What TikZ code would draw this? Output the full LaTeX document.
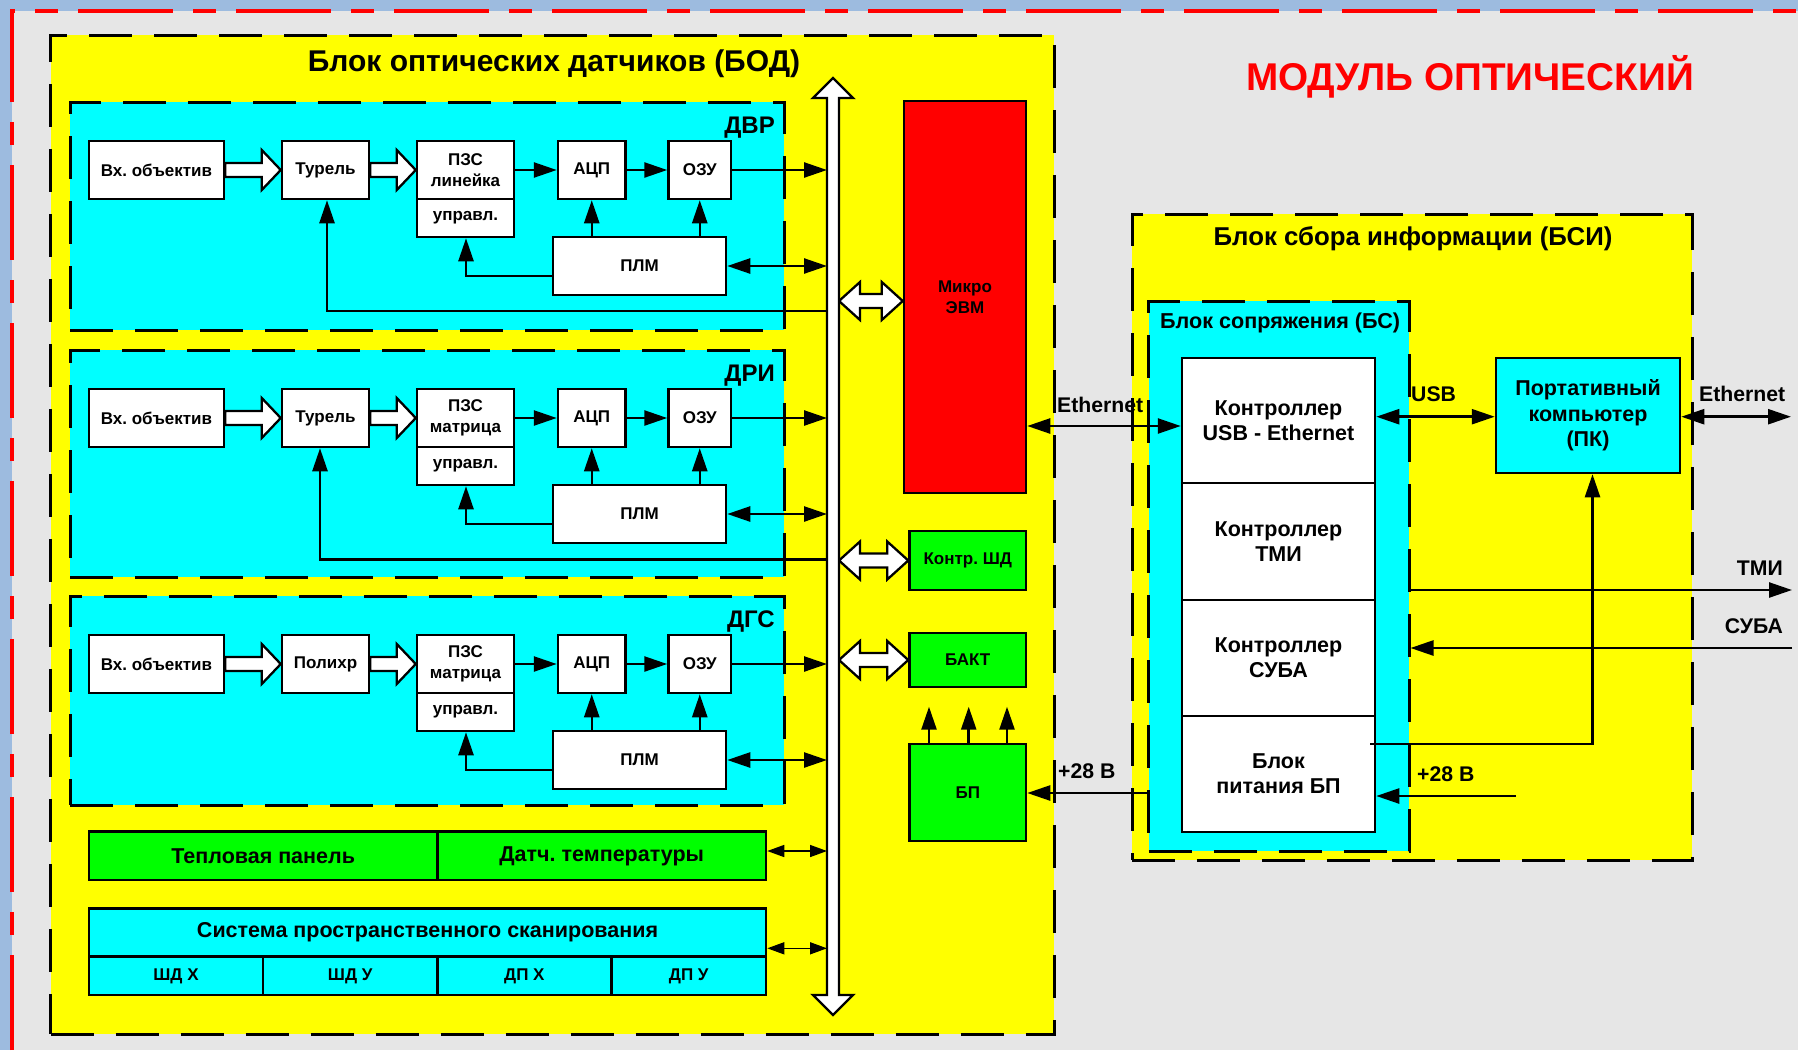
\documentclass[tikz,border=0pt]{standalone}
\usepackage{fontspec}
\setmainfont{Liberation Sans}
\usetikzlibrary{arrows.meta,calc}
\definecolor{ylw}{HTML}{FFFF00}
\definecolor{cyn}{HTML}{00FFFF}
\definecolor{grn}{HTML}{00FF00}
\definecolor{rd}{HTML}{FF0000}
\definecolor{bggray}{HTML}{E6E6E6}
\definecolor{bgblue}{HTML}{9DBBDF}
\tikzset{
 blk/.style={draw, line width=2.5pt, fill=white, inner sep=0pt, align=center, font=\bfseries\fontsize{17}{21}\selectfont},
 wbig/.style={blk, font=\bfseries\fontsize{21.5}{25}\selectfont},
 gbox/.style={blk, fill=grn},
 barfont/.style={font=\bfseries\fontsize{21.5}{25}\selectfont},
 dbox/.style={draw, line width=3pt, dash pattern=on 43pt off 22pt},
 lbl/.style={inner sep=0pt, font=\bfseries\fontsize{21.2}{25}\selectfont},
 lblbig/.style={inner sep=0pt, font=\bfseries\fontsize{24}{28}\selectfont},
 conn/.style={line width=2.5pt, -{Triangle[length=23pt,width=15pt]}},
 bconn/.style={line width=2.5pt, {Triangle[length=23pt,width=15pt]}-{Triangle[length=23pt,width=15pt]}},
 thinb/.style={line width=1.5pt, {Triangle[length=17pt,width=12pt]}-{Triangle[length=17pt,width=12pt]}},
 hollow/.style={draw, line width=2.3pt, fill=white, line join=miter},
}
\newcommand\rbox[7][]{\node[#1, minimum width={(#5)-(#3)}, minimum height={(#6)-(#4)}] (#2) at ({((#3)+(#5))/2},{((#4)+(#6))/2}) {#7};}
\newcommand\harrow[2]{\draw[hollow] let \p1=(#1.east), \p2=(#2.west) in
 (\x1,\y2+7pt) -- (\x2-19pt,\y2+7pt) -- (\x2-19pt,\y2+20pt) -- (\x2,\y2) -- (\x2-19pt,\y2-20pt) -- (\x2-19pt,\y2-7pt) -- (\x1,\y2-7pt) -- cycle;}
\newcommand\hdouble[3]{\draw[hollow] let \p1=(#1), \p2=(#2), \p3=(#3) in
 (\x1,\y3) -- (\x1+21pt,\y3+19pt) -- (\x1+21pt,\y3+7pt) -- (\x2-21pt,\y3+7pt) -- (\x2-21pt,\y3+19pt) -- (\x2,\y3)
 -- (\x2-21pt,\y3-19pt) -- (\x2-21pt,\y3-7pt) -- (\x1+21pt,\y3-7pt) -- (\x1+21pt,\y3-19pt) -- cycle;}
\newcommand\sensor[6]{%
\begin{scope}[shift={(0,#2)}]
\rbox[dbox, fill=cyn]{#1box}{70}{102}{784}{#6}{}
\node[lblbig, anchor=base east] (#1lab) at (775,133) {#3};
\rbox[blk]{#1vo}{89}{141}{224}{199}{Вх. объектив}
\rbox[blk]{#1tu}{282}{141}{369}{199}{#4}
\rbox[blk]{#1pz}{417}{141}{514}{199}{#5}
\rbox[blk]{#1up}{417}{199}{514}{237}{управл.}
\rbox[blk]{#1ad}{558}{141}{625.5}{199}{АЦП}
\rbox[blk]{#1oz}{668.5}{141}{731}{199}{ОЗУ}
\rbox[blk]{#1pl}{553}{237}{726}{295}{ПЛМ}
\coordinate (#1c) at (466,276);
\end{scope}
\harrow{#1vo}{#1tu}
\harrow{#1tu}{#1pz}
\draw[conn] (#1pz) -- (#1ad);
\draw[conn] (#1ad) -- (#1oz);
\draw[conn] (#1oz.east) -- (#1oz.east -| bus.west);
\draw[bconn] (#1pl.east) -- (#1pl.east -| bus.west);
\draw[conn] (#1pl.west |- #1c) -- (#1c) -- (#1c |- #1up.south);
\draw[conn] (#1ad.south |- #1pl.north) -- (#1ad.south);
\draw[conn] (#1oz.south |- #1pl.north) -- (#1oz.south);
}
\begin{document}
\frenchspacing
\begin{tikzpicture}[x=1pt,y=-1pt]
\useasboundingbox (0,0) rectangle (1798,1050);
\fill[bgblue] (0,0) rectangle (1798,1050);
\fill[bggray] (11.5,10.7) rectangle (1798,1050);
\draw[rd, line width=4pt, dash pattern=on 95pt off 20pt on 23pt off 20pt] (11.5,1050) -- (11.5,10.7) -- (1798,10.7);
% BOD
\rbox[dbox, fill=ylw]{bod}{50.5}{35}{1054}{1034}{}
\node[inner sep=0pt, anchor=base, font=\bfseries\fontsize{30}{34}\selectfont] (bodt) at (554,71) {Блок оптических датчиков (БОД)};
\node[inner sep=0pt, anchor=base, text=rd, font=\bfseries\fontsize{38.7}{42}\selectfont] (modt) at (1470,90) {МОДУЛЬ ОПТИЧЕСКИЙ};
% bus (invisible anchor node)
\node[inner sep=0pt, outer sep=0pt, minimum width=12, minimum height=897] (bus) at (833,546.5) {};
% sensors
\sensor{dvr}{0}{ДВР}{Турель}{ПЗС\\линейка}{330}
\sensor{dri}{248}{ДРИ}{Турель}{ПЗС\\матрица}{329}
\sensor{dgs}{494}{ДГС}{Полихр}{ПЗС\\матрица}{311}
\coordinate (dvrfb) at (327,311);
\coordinate (drifb) at (320,559.3);
\draw[conn] (bus.west |- dvrfb) -- (dvrfb) -- (dvrfb |- dvrtu.south);
\draw[conn] (bus.west |- drifb) -- (drifb) -- (drifb |- dritu.south);
% heat & scan
\rbox[gbox, barfont]{heat1}{89}{831.7}{437.4}{880}{Тепловая панель}
\rbox[gbox, barfont]{heat2}{437.4}{831.7}{766}{880}{Датч. температуры}
\rbox[blk, fill=cyn, barfont]{scan}{89}{908.3}{766}{956.7}{Система пространственного сканирования}
\rbox[blk, fill=cyn]{sc1}{89}{956.7}{263}{995}{ШД Х}
\rbox[blk, fill=cyn]{sc2}{263}{956.7}{437.4}{995}{ШД У}
\rbox[blk, fill=cyn]{sc3}{437.4}{956.7}{611.4}{995}{ДП Х}
\rbox[blk, fill=cyn]{sc4}{611.4}{956.7}{766}{995}{ДП У}
\coordinate (yHeat) at (0,851);
\coordinate (yScan) at (0,948.3);
\draw[thinb] (heat2.east |- yHeat) -- (bus.west |- yHeat);
\draw[thinb] (scan.east |- yScan) -- (bus.west |- yScan);
% right column of BOD
\rbox[blk, fill=rd]{micro}{904}{101}{1026}{493}{Микро\\ЭВМ}
\rbox[gbox]{ksd}{909.5}{531}{1026}{590}{Контр. ШД}
\rbox[gbox]{bakt}{909.5}{633}{1026}{687}{БАКТ}
\rbox[gbox]{bp}{909.5}{744}{1026}{841}{БП}
\coordinate (u1) at (929,706.7);
\coordinate (u2) at (968.7,706.7);
\coordinate (u3) at (1007,706.7);
\draw[conn] (u1 |- bp.north) -- (u1);
\draw[conn] (u2 |- bp.north) -- (u2);
\draw[conn] (u3 |- bp.north) -- (u3);
\coordinate (yMic) at (0,301);
\hdouble{bus.east}{micro.west}{yMic}
\hdouble{bus.east}{ksd.west}{ksd.west}
\hdouble{bus.east}{bakt.west}{bakt.west}
% BSI
\rbox[dbox, fill=ylw]{bsi}{1132}{214}{1692}{860}{}
\node[inner sep=0pt, anchor=base, font=\bfseries\fontsize{25.8}{30}\selectfont] (bsit) at (1413,245.5) {Блок сбора информации (БСИ)};
\rbox[dbox, fill=cyn]{bs}{1148.5}{301}{1409}{851}{}
\node[inner sep=0pt, anchor=base west, font=\bfseries\fontsize{21.6}{25}\selectfont] (bst) at (1160,328) {Блок сопряжения (БС)};
\rbox[wbig]{ue}{1182}{358}{1375}{483}{Контроллер\\USB - Ethernet}
\rbox[wbig]{tmi}{1182}{483}{1375}{600}{Контроллер\\ТМИ}
\rbox[wbig]{suba}{1182}{600}{1375}{716}{Контроллер\\СУБА}
\rbox[wbig]{psu}{1182}{716}{1375}{832}{Блок\\питания БП}
\rbox[wbig, fill=cyn, font=\bfseries\fontsize{21.5}{25.5}\selectfont]{pc}{1496}{358}{1680}{473}{Портативный\\компьютер\\(ПК)}
% connectors right
\coordinate (yEth) at (0,426);
\draw[bconn] (micro.east |- yEth) -- (ue.west |- yEth);
\node[lbl, anchor=base west] (ethl) at (1057,412) {Ethernet};
\coordinate (yUsb) at (0,416.7);
\draw[bconn] (ue.east |- yUsb) -- (pc.west |- yUsb);
\node[lbl, anchor=base west] (usbl) at (1411,401) {USB};
\coordinate (ethR) at (1791,416.7);
\draw[bconn] (pc.east |- ethR) -- (ethR);
\node[lbl, anchor=base west] (ethr) at (1699,401.7) {Ethernet};
\coordinate (tmiR) at (1792,590);
\draw[conn] (bs.east |- tmiR) -- (tmiR);
\node[lbl, anchor=base east] (tmil) at (1783,575) {ТМИ};
\coordinate (subR) at (1792,648);
\draw[conn] (subR) -- (bs.east |- subR);
\node[lbl, anchor=base east] (subl) at (1783,633) {СУБА};
\coordinate (pkS) at (1370,744);
\coordinate (pkC) at (1592.5,744);
\draw[conn] (pkS) -- (pkC) -- (pkC |- pc.south);
\coordinate (p28) at (1516,796);
\draw[conn] (p28) -- (psu.east |- p28);
\node[lbl, anchor=base west] (p28r) at (1417,781) {+28 В};
\coordinate (p28b) at (0,793);
\draw[conn] (bs.west |- p28b) -- (bp.east |- p28b);
\node[lbl, anchor=base west] (p28l) at (1058,778) {+28 В};
% bus drawn last
\draw[hollow] let \p1=(bus.north), \p2=(bus.south) in
 (\x1,\y1+20pt) -- (\x1+20pt,\y1) -- (\x1+6pt,\y1) -- (\x1+6pt,\y2) -- (\x1+20pt,\y2) -- (\x1,\y2-20pt)
 -- (\x1-20pt,\y2) -- (\x1-6pt,\y2) -- (\x1-6pt,\y1) -- (\x1-20pt,\y1) -- cycle;
\end{tikzpicture}
\end{document}
